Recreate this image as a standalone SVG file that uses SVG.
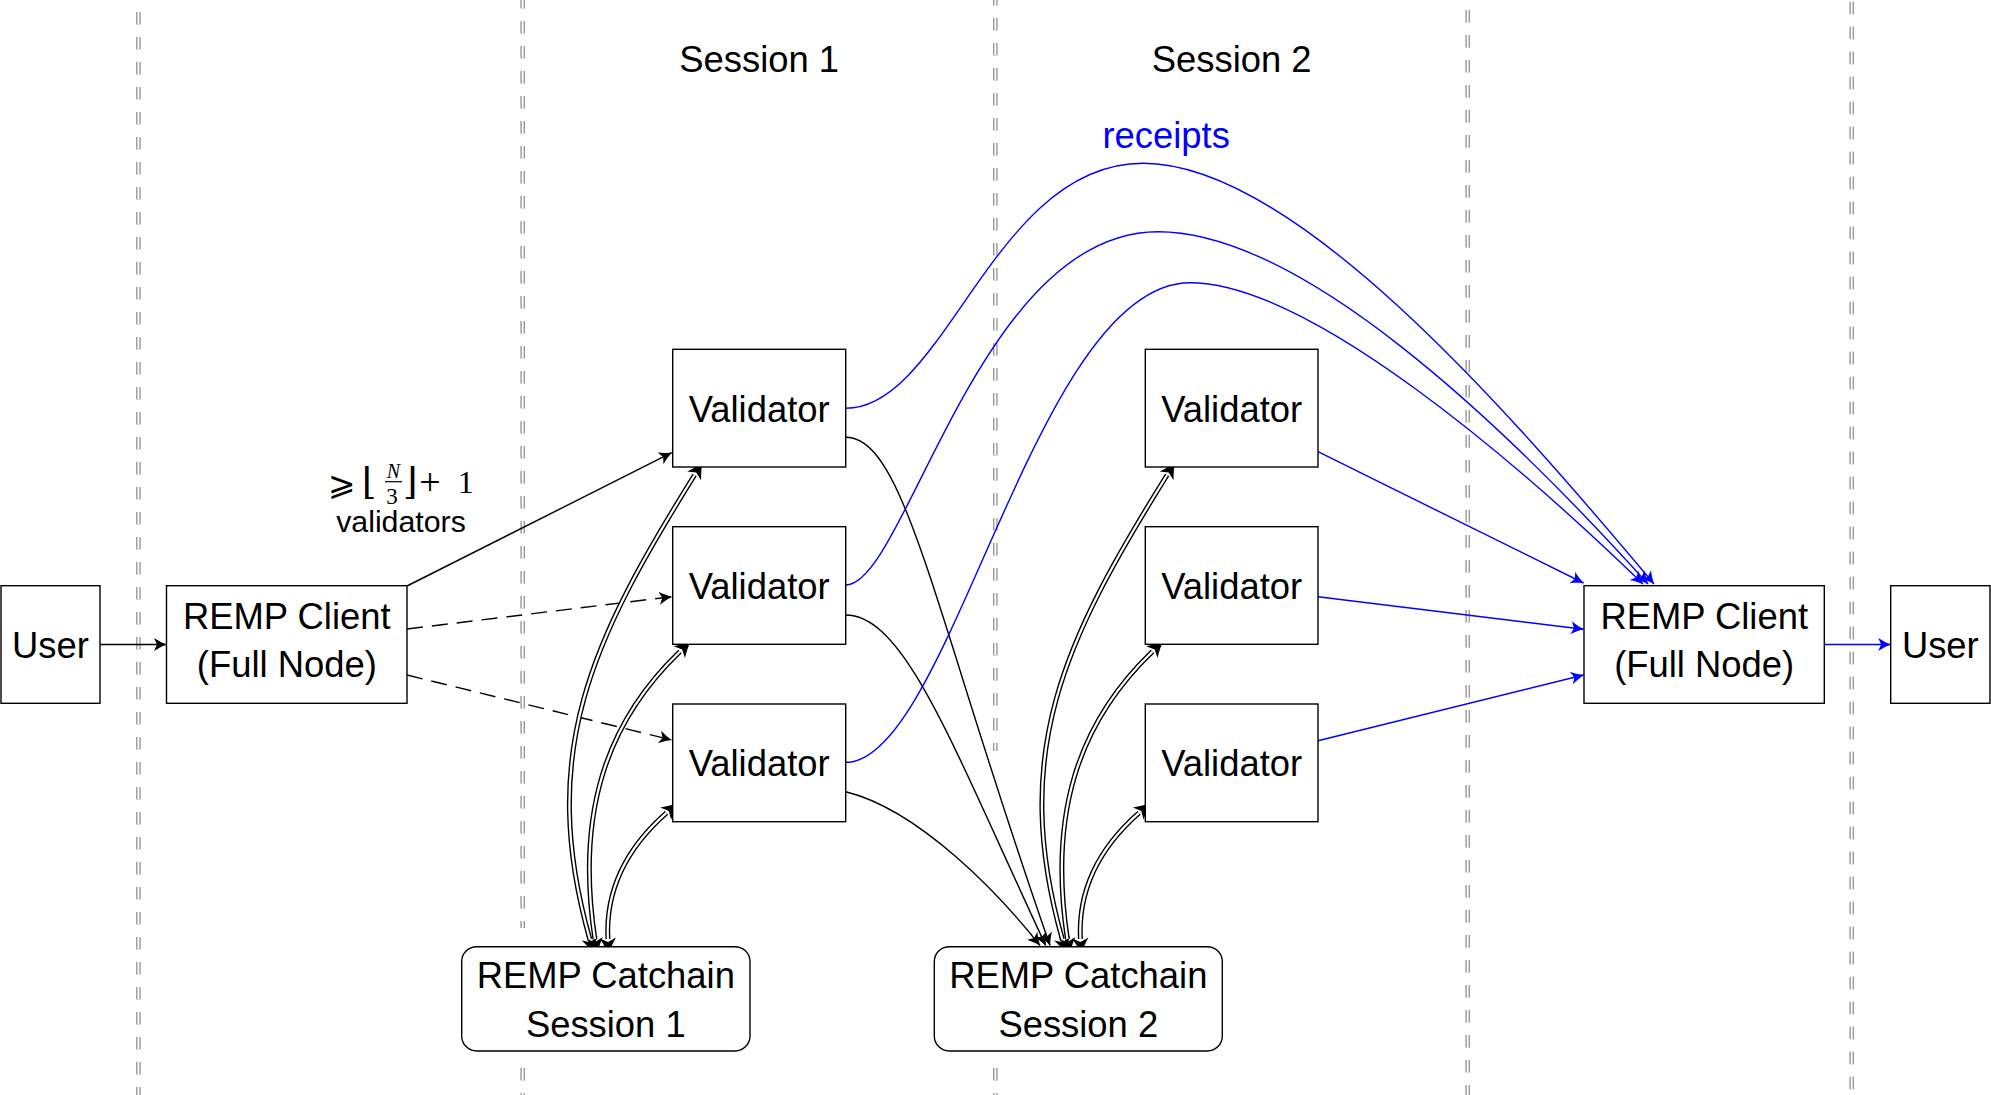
<svg xmlns="http://www.w3.org/2000/svg" width="1991" height="1095" viewBox="0 0 1991 1095">
<style>
.box{fill:#fff;stroke:#000;stroke-width:1.4}
.t{font-family:"Liberation Sans",Arial,sans-serif;font-size:36.4px;text-anchor:middle;fill:#000}
.sepo{stroke:#999;stroke-width:4.6;stroke-dasharray:12.5 12.5;fill:none}
.sepi{stroke:#fff;stroke-width:1.8;stroke-dasharray:12.5 12.5;fill:none}
.c{fill:none;stroke:#000;stroke-width:1.4}
.cb{fill:none;stroke:#0000ff;stroke-width:1.4}
.dash{stroke-dasharray:16 9}
.dblo{fill:none;stroke:#000;stroke-width:5}
.dbli{fill:none;stroke:#fff;stroke-width:2.2}
.dblm{fill:none;stroke:none;marker-start:url(#ahd);marker-end:url(#ahd)}
.m{font-family:"DejaVu Serif","Liberation Serif",serif;fill:#000}
</style>
<defs>
<marker id="ah" viewBox="-14 -7 16 14" refX="0" refY="0" markerWidth="16" markerHeight="14" markerUnits="userSpaceOnUse" orient="auto">
<path d="M0.5,0 C-3,-1.2 -8,-3.5 -12.5,-6.5 L-9.5,0 L-12.5,6.5 C-8,3.5 -3,1.2 0.5,0 Z" fill="#000"/>
</marker>
<marker id="ahb" viewBox="-14 -7 16 14" refX="0" refY="0" markerWidth="16" markerHeight="14" markerUnits="userSpaceOnUse" orient="auto">
<path d="M0.5,0 C-3,-1.2 -8,-3.5 -12.5,-6.5 L-9.5,0 L-12.5,6.5 C-8,3.5 -3,1.2 0.5,0 Z" fill="#0000ff"/>
</marker>
<marker id="ahd" viewBox="-11 -9 21 18" refX="-7" refY="0" markerWidth="21" markerHeight="18" markerUnits="userSpaceOnUse" orient="auto-start-reverse">
<path d="M8,0 C3.5,-1.6 -2,-4.5 -8,-8.2 L-4,0 L-8,8.2 C-2,4.5 3.5,1.6 8,0 Z" fill="#000"/>
</marker>
</defs>

<g id="separators">
<line class="sepo" x1="138.4" y1="0" x2="138.4" y2="1095" stroke-dashoffset="13"/>
<line class="sepi" x1="138.4" y1="0" x2="138.4" y2="1095" stroke-dashoffset="13"/>
<line class="sepo" x1="522.7" y1="0" x2="522.7" y2="928" stroke-dashoffset="4"/>
<line class="sepi" x1="522.7" y1="0" x2="522.7" y2="928" stroke-dashoffset="4"/>
<line class="sepo" x1="522.7" y1="1068" x2="522.7" y2="1095"/>
<line class="sepi" x1="522.7" y1="1068" x2="522.7" y2="1095"/>
<line class="sepo" x1="995.3" y1="0" x2="995.3" y2="751" stroke-dashoffset="7"/>
<line class="sepi" x1="995.3" y1="0" x2="995.3" y2="751" stroke-dashoffset="7"/>
<line class="sepo" x1="995.3" y1="1068" x2="995.3" y2="1095"/>
<line class="sepi" x1="995.3" y1="1068" x2="995.3" y2="1095"/>
<line class="sepo" x1="1467.7" y1="0" x2="1467.7" y2="1095" stroke-dashoffset="15"/>
<line class="sepi" x1="1467.7" y1="0" x2="1467.7" y2="1095" stroke-dashoffset="15"/>
<line class="sepo" x1="1851.7" y1="0" x2="1851.7" y2="1095" stroke-dashoffset="23.3"/>
<line class="sepi" x1="1851.7" y1="0" x2="1851.7" y2="1095" stroke-dashoffset="23.3"/>
</g>

<g id="titles">
<text class="t" x="759.2" y="71.7">Session 1</text>
<text class="t" x="1231.7" y="71.7">Session 2</text>
<text class="t" x="1166.2" y="147.7" style="fill:#0000ff">receipts</text>
</g>

<g id="connectors">
<line class="c" x1="100" y1="644.5" x2="166.5" y2="644.5" marker-end="url(#ah)"/>
<line class="c" x1="407" y1="586" x2="671.7" y2="452.7" marker-end="url(#ah)"/>
<line class="c dash" x1="407" y1="629" x2="671.7" y2="596.7" marker-end="url(#ah)"/>
<line class="c dash" x1="407" y1="675" x2="671.7" y2="740" marker-end="url(#ah)"/>

<path class="c" d="M845.7,437.3 C905.7,437.3 934.5,616 1050,945.5" marker-end="url(#ah)"/>
<path class="c" d="M845.7,615 C905,615 953,747 1045.7,945.5" marker-end="url(#ah)"/>
<path class="c" d="M845.7,791.7 C920,810 1000,895 1040,945.5" marker-end="url(#ah)"/>

<path class="cb" d="M845.7,408.3 C945.7,408.3 993,163.3 1143,163.3 C1293,163.3 1504,405 1654,584" marker-end="url(#ahb)"/>
<path class="cb" d="M845.7,585 C905.7,585 978,231.7 1158,231.7 C1300,231.7 1500,420 1648,584" marker-end="url(#ahb)"/>
<path class="cb" d="M845.7,762.3 C950.7,762.3 1035,282.7 1190,282.7 C1310,282.7 1520,465 1643,584" marker-end="url(#ahb)"/>

<line class="cb" x1="1318" y1="451.7" x2="1583.5" y2="583" marker-end="url(#ahb)"/>
<line class="cb" x1="1318" y1="596.7" x2="1583.5" y2="629.3" marker-end="url(#ahb)"/>
<line class="cb" x1="1318" y1="740.7" x2="1583.5" y2="675" marker-end="url(#ahb)"/>
<line class="cb" x1="1824.3" y1="644.5" x2="1890.7" y2="644.5" marker-end="url(#ahb)"/>

<g id="double-s1">
<path class="dblo" d="M589.8,939.3 C537.2,752 591.3,640.8 694.6,475"/>
<path class="dbli" d="M589.8,939.3 C537.2,752 591.3,640.8 694.6,475"/>
<path class="dblm" d="M589.8,939.3 C537.2,752 591.3,640.8 694.6,475"/>
<path class="dblo" d="M594.9,939.1 C576.2,815.4 604.4,724 680,651.5"/>
<path class="dbli" d="M594.9,939.1 C576.2,815.4 604.4,724 680,651.5"/>
<path class="dblm" d="M594.9,939.1 C576.2,815.4 604.4,724 680,651.5"/>
<path class="dblo" d="M607.9,939 C605.2,884 632.7,842.6 666.5,812.9"/>
<path class="dbli" d="M607.9,939 C605.2,884 632.7,842.6 666.5,812.9"/>
<path class="dblm" d="M607.9,939 C605.2,884 632.7,842.6 666.5,812.9"/>
</g>
<g id="double-s2">
<path class="dblo" d="M1062.3,939.3 C1009.7,752 1063.8,640.8 1167.1,475"/>
<path class="dbli" d="M1062.3,939.3 C1009.7,752 1063.8,640.8 1167.1,475"/>
<path class="dblm" d="M1062.3,939.3 C1009.7,752 1063.8,640.8 1167.1,475"/>
<path class="dblo" d="M1067.4,939.1 C1048.7,815.4 1076.9,724 1152.5,651.5"/>
<path class="dbli" d="M1067.4,939.1 C1048.7,815.4 1076.9,724 1152.5,651.5"/>
<path class="dblm" d="M1067.4,939.1 C1048.7,815.4 1076.9,724 1152.5,651.5"/>
<path class="dblo" d="M1080.4,939 C1077.7,884 1105.2,842.6 1139,812.9"/>
<path class="dbli" d="M1080.4,939 C1077.7,884 1105.2,842.6 1139,812.9"/>
<path class="dblm" d="M1080.4,939 C1077.7,884 1105.2,842.6 1139,812.9"/>
</g>
</g>

<g id="label-validators">
<text class="m" x="328" y="495" style="font-family:'DejaVu Sans',sans-serif;font-size:33px">⩾</text>
<text class="m" x="362" y="494" style="font-size:37px">⌊</text>
<text class="m" x="393.3" y="478.3" text-anchor="middle" style="font-family:'Liberation Serif',serif;font-style:italic;font-size:20px">N</text>
<line x1="385" y1="481.7" x2="402" y2="481.7" stroke="#000" stroke-width="1.2"/>
<text class="m" x="392" y="503.5" text-anchor="middle" style="font-family:'Liberation Serif',serif;font-size:23px">3</text>
<text class="m" x="403" y="494" style="font-size:37px">⌋</text>
<text class="m" x="430" y="495" text-anchor="middle" style="font-family:'Liberation Serif',serif;font-size:38px">+</text>
<text class="m" x="465.8" y="493.3" text-anchor="middle" style="font-family:'Liberation Serif',serif;font-size:32px">1</text>
<text class="t" x="401" y="531.7" style="font-size:30.3px">validators</text>
</g>

<g id="user-left"><rect class="box" x="1" y="585.7" width="99" height="117.6"/><text class="t" x="50.5" y="658">User</text></g>
<g id="remp-client-left"><rect class="box" x="166.5" y="585.7" width="240.5" height="117.6"/><text class="t" x="286.8" y="629.3">REMP Client</text><text class="t" x="286.8" y="677.3">(Full Node)</text></g>
<g id="validator-1-1"><rect class="box" x="672.7" y="349.3" width="173" height="117.7"/><text class="t" x="759.2" y="421.7">Validator</text></g>
<g id="validator-1-2"><rect class="box" x="672.7" y="526.7" width="173" height="117.6"/><text class="t" x="759.2" y="599.1">Validator</text></g>
<g id="validator-1-3"><rect class="box" x="672.7" y="704" width="173" height="117.7"/><text class="t" x="759.2" y="776.4">Validator</text></g>
<g id="validator-2-1"><rect class="box" x="1145.3" y="349.3" width="172.7" height="117.7"/><text class="t" x="1231.7" y="421.7">Validator</text></g>
<g id="validator-2-2"><rect class="box" x="1145.3" y="526.7" width="172.7" height="117.6"/><text class="t" x="1231.7" y="599.1">Validator</text></g>
<g id="validator-2-3"><rect class="box" x="1145.3" y="704" width="172.7" height="117.7"/><text class="t" x="1231.7" y="776.4">Validator</text></g>
<g id="catchain-1"><rect class="box" x="461.7" y="946.7" width="288.3" height="104.3" rx="15"/><text class="t" x="605.8" y="987.7">REMP Catchain</text><text class="t" x="605.8" y="1036.7">Session 1</text></g>
<g id="catchain-2"><rect class="box" x="934.3" y="946.7" width="288" height="104.3" rx="15"/><text class="t" x="1078.3" y="987.7">REMP Catchain</text><text class="t" x="1078.3" y="1036.7">Session 2</text></g>
<g id="remp-client-right"><rect class="box" x="1584" y="585.7" width="240.3" height="117.6"/><text class="t" x="1704.2" y="629.3">REMP Client</text><text class="t" x="1704.2" y="677.3">(Full Node)</text></g>
<g id="user-right"><rect class="box" x="1890.7" y="585.7" width="99.3" height="117.6"/><text class="t" x="1940.3" y="658">User</text></g>
</svg>
